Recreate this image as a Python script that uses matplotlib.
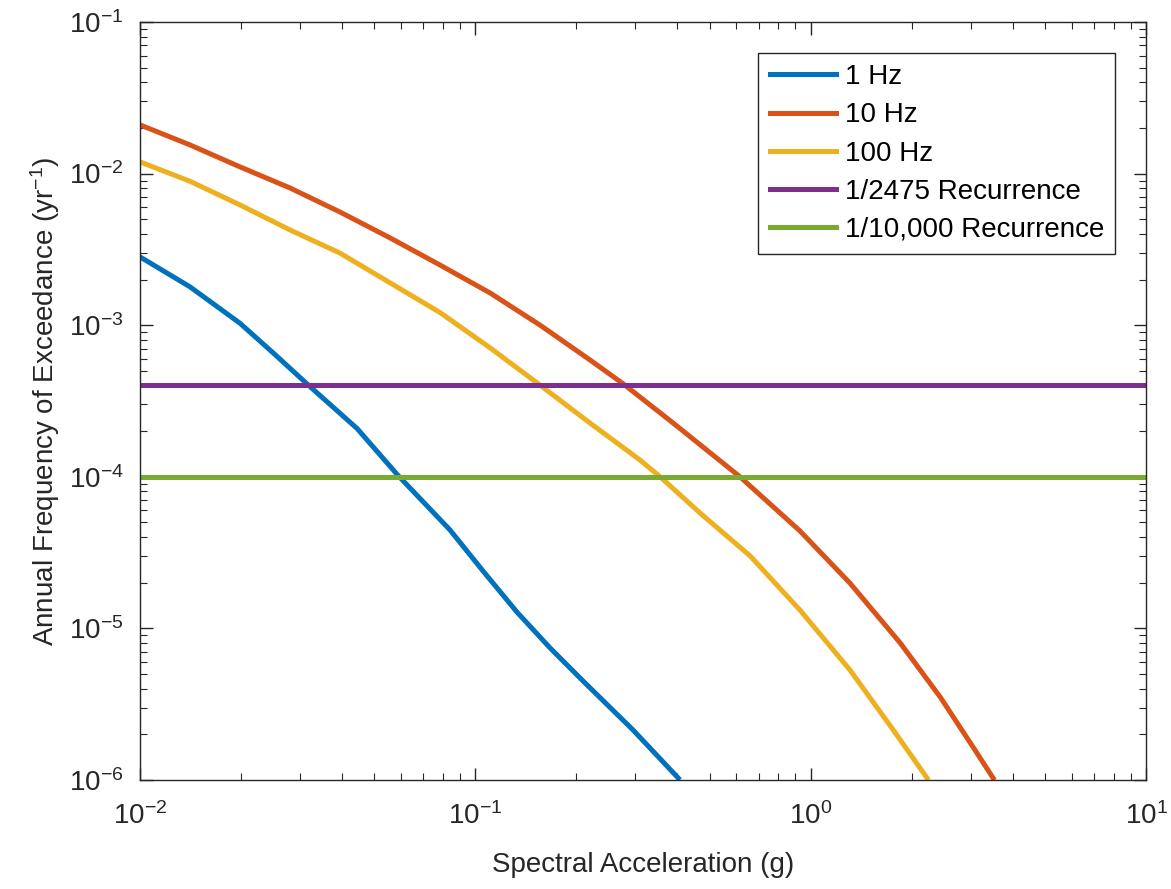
import numpy as np
import matplotlib
matplotlib.use("Agg")
import matplotlib.pyplot as plt

# 数据
sa_1hz = [0.0100, 0.01409, 0.01986, 0.02495, 0.0317, 0.0444, 0.0588, 0.0840, 0.1054, 0.1331, 0.1671, 0.2094, 0.2951, 0.4027]
afe_1hz = [2.82e-3, 1.79e-3, 1.03e-3, 6.56e-4, 4.04e-4, 2.08e-4, 1.02e-4, 4.46e-5, 2.39e-5, 1.28e-5, 7.42e-6, 4.50e-6, 2.14e-6, 1.03e-6]

sa_10hz = [0.0100, 0.01409, 0.01986, 0.02799, 0.03945, 0.05572, 0.07852, 0.1107, 0.1560, 0.2198,
           0.2761, 0.3890, 0.6152, 0.9290, 1.309, 1.849, 2.432, 3.048, 3.499]
afe_10hz = [2.094e-2, 1.545e-2, 1.107e-2, 8.04e-3, 5.58e-3, 3.76e-3, 2.49e-3, 1.63e-3, 1.00e-3, 5.89e-4,
            4.10e-4, 2.26e-4, 1.00e-4, 4.39e-5, 1.99e-5, 8.01e-6, 3.53e-6, 1.65e-6, 1.03e-6]

sa_100hz = [0.0100, 0.01409, 0.01986, 0.02799, 0.03945, 0.05572, 0.07852, 0.1107, 0.1528, 0.2198,
            0.3097, 0.3556, 0.4677, 0.6592, 0.9290, 1.309, 1.762, 2.223]
afe_100hz = [1.194e-2, 8.90e-3, 6.21e-3, 4.25e-3, 2.99e-3, 1.90e-3, 1.21e-3, 7.08e-4, 4.16e-4, 2.26e-4,
             1.29e-4, 1.00e-4, 5.77e-5, 3.01e-5, 1.32e-5, 5.32e-6, 2.14e-6, 1.03e-6]

rec_2475 = 1 / 2475
rec_10000 = 1 / 10000
x_lim = [1e-2, 1e1]
y_lim = [1e-6, 1e-1]

plt.rcParams["font.family"] = ["Liberation Sans", "DejaVu Sans"]
plt.rcParams["mathtext.fontset"] = "custom"
plt.rcParams["mathtext.rm"] = "Liberation Sans"
plt.rcParams["mathtext.it"] = "Liberation Sans:italic"
plt.rcParams["mathtext.bf"] = "Liberation Sans:bold"

fig = plt.figure(figsize=(11.71, 8.89), dpi=100)
ax = fig.add_axes([0.1196, 0.1226, 0.8591, 0.8527])

lw = 3.6
ax.plot(sa_1hz, afe_1hz, color="#0072BD", lw=lw, label="1 Hz")
ax.plot(sa_10hz, afe_10hz, color="#D95319", lw=lw, label="10 Hz")
ax.plot(sa_100hz, afe_100hz, color="#EDB120", lw=lw, label="100 Hz")
ax.plot(x_lim, [rec_2475, rec_2475], color="#7E2F8E", lw=lw, label="1/2475 Recurrence")
ax.plot(x_lim, [rec_10000, rec_10000], color="#77AC30", lw=lw, label="1/10,000 Recurrence")

ax.set_xscale("log")
ax.set_yscale("log")
ax.set_xlim(x_lim)
ax.set_ylim(y_lim)

txt = "#262626"
ax.set_xlabel("Spectral Acceleration (g)", fontsize=20, color=txt, labelpad=16)
ax.set_ylabel("Annual Frequency of Exceedance (yr$^{-1}$)", fontsize=20, color=txt, labelpad=5)

ax.tick_params(which="both", direction="in", top=True, right=True, colors=txt, labelsize=20)
ax.tick_params(which="major", length=9, width=1.0)
ax.tick_params(which="minor", length=5, width=0.8)
ax.tick_params(axis="x", which="major", pad=16)
ax.tick_params(axis="y", which="major", pad=12)
for sp in ax.spines.values():
    sp.set_color(txt)
    sp.set_linewidth(1.0)

leg = ax.legend(loc="upper right", bbox_to_anchor=(0.9692, 0.9591), fontsize=20,
                frameon=True, fancybox=False, edgecolor=txt, framealpha=1,
                handlelength=2.4, handletextpad=0.3, labelspacing=0.44,
                borderpad=0.4, borderaxespad=0)
leg.get_frame().set_linewidth(1.0)

plt.savefig("out.png", dpi=100)
